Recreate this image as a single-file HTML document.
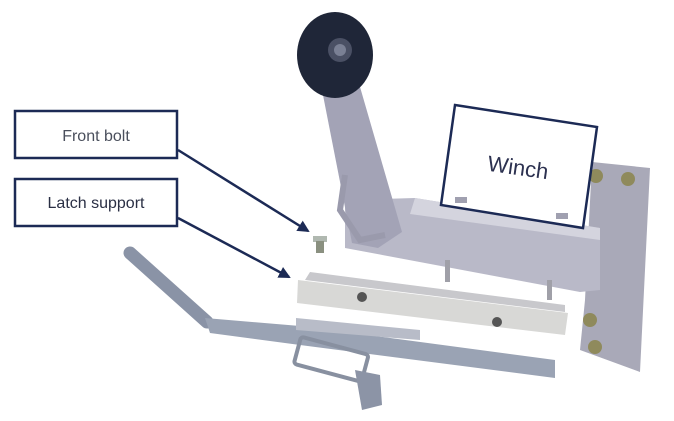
<!DOCTYPE html>
<html><head><meta charset="utf-8"><style>
html,body{margin:0;padding:0;background:#fff;width:674px;height:421px;overflow:hidden}
</style></head><body>
<svg width="674" height="421" viewBox="0 0 674 421" xmlns="http://www.w3.org/2000/svg" font-family="Liberation Sans, sans-serif">
<defs><marker id="ah" markerWidth="12" markerHeight="12" refX="10" refY="6" orient="auto" markerUnits="userSpaceOnUse"><path d="M0,0 L12,6 L0,12 z" fill="#1c2a55"/></marker></defs>
<polygon points="592,162 650,168 640,372 580,350 585,300" fill="#a9a9b8"/>
<circle cx="596" cy="176" r="7" fill="#8f8a5c"/><circle cx="628" cy="179" r="7" fill="#8f8a5c"/>
<circle cx="590" cy="320" r="7" fill="#8f8a5c"/><circle cx="595" cy="347" r="7" fill="#8f8a5c"/>
<polygon points="345,200 415,198 600,228 600,290 580,292 345,248" fill="#b9b9c8"/>
<polygon points="415,198 600,228 600,240 410,214" fill="#d4d4de"/>
<polygon points="322,90 358,80 402,232 378,248 352,243" fill="#a3a3b6"/>
<path d="M345,175 L340,210 L360,240 L385,235" stroke="#9a9aac" stroke-width="6" fill="none"/>
<ellipse cx="335" cy="55" rx="38" ry="43" fill="#1f2638"/>
<circle cx="340" cy="50" r="12" fill="#4a5064"/>
<circle cx="340" cy="50" r="6" fill="#7a8094"/>
<rect x="445" y="260" width="5" height="22" fill="#a0a0a8"/><rect x="547" y="280" width="5" height="20" fill="#a0a0a8"/>
<rect x="313" y="236" width="14" height="6" fill="#b0b8b0"/><rect x="316" y="241" width="8" height="12" fill="#8a9080"/>
<polygon points="310,272 565,305 565,312 305,280" fill="#c8c8cc"/>
<polygon points="298,280 568,313 565,335 297,303" fill="#d8d8d6"/>
<circle cx="362" cy="297" r="5" fill="#555"/><circle cx="497" cy="322" r="5" fill="#555"/>
<line x1="130" y1="253" x2="207" y2="322" stroke="#8a93a6" stroke-width="13" stroke-linecap="round"/>
<polygon points="205,318 300,326 555,360 555,378 300,345 210,333" fill="#9aa3b4"/>
<polygon points="296,318 420,330 420,340 296,330" fill="#b8bcc8"/>
<rect x="296" y="345" width="70" height="28" rx="3" fill="none" stroke="#8890a0" stroke-width="4" transform="rotate(15 330 360)"/>
<polygon points="355,370 380,375 382,405 362,410" fill="#8c94a6"/>
<rect x="15" y="111" width="162" height="47" fill="#fff" stroke="#1c2a55" stroke-width="2.5"/>
<text x="96" y="141" text-anchor="middle" font-size="16" fill="#4a4f5c">Front bolt</text>
<rect x="15" y="179" width="162" height="47" fill="#fff" stroke="#1c2a55" stroke-width="2.5"/>
<text x="96" y="208" text-anchor="middle" font-size="16" fill="#2a2f44">Latch support</text>
<line x1="178" y1="150" x2="308" y2="231" stroke="#1c2a55" stroke-width="2.5" marker-end="url(#ah)"/>
<line x1="178" y1="218" x2="289" y2="277" stroke="#1c2a55" stroke-width="2.5" marker-end="url(#ah)"/>
<polygon points="455,105 597,127 583,228 441,205" fill="#fff" stroke="#1c2a55" stroke-width="2.5"/>
<text x="518" y="175" text-anchor="middle" font-size="22" fill="#2c3150" transform="rotate(8 518 168)">Winch</text>
<rect x="455" y="197" width="12" height="6" fill="#a0a0b0"/><rect x="556" y="213" width="12" height="6" fill="#a0a0b0"/>
</svg>
</body></html>
